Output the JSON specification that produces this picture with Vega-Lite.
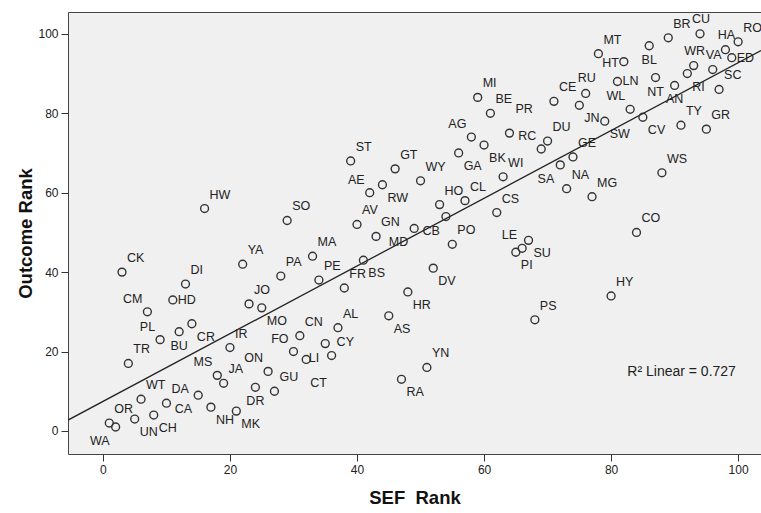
{
  "$schema": "https://vega.github.io/schema/vega-lite/v6.json",
  "width": 693,
  "height": 442,
  "autosize": {"type": "none"},
  "padding": {"left": 68, "top": 12, "right": 0, "bottom": 59},
  "background": "white",
  "config": {
    "view": {"fill": "#f0f0f0", "stroke": "#444444", "strokeWidth": 1},
    "axis": {
      "grid": false, "domain": false, "tickColor": "#333333", "tickSize": 7, "tickWidth": 1,
      "labelFont": "Liberation Sans", "labelFontSize": 12, "labelColor": "#222222", "labelPadding": 3,
      "titleFont": "Liberation Sans", "titleFontSize": 18.5, "titleFontWeight": "bold", "titleColor": "#111111"
    },
    "text": {"font": "Liberation Sans", "fontSize": 12.5, "color": "#222222"}
  },
  "layer": [
    {
      "data": {"values": [{}]},
      "mark": {"type": "text", "align": "center", "baseline": "middle", "text": "R² Linear = 0.727", "fontSize": 14},
      "encoding": {"x": {"datum": 91.1, "type": "quantitative"}, "y": {"datum": 14.9, "type": "quantitative"}}
    },
    {
      "data": {"values": [
        {"sef":1,"outcome":2,"label":"OR"},{"sef":2,"outcome":1,"label":"WA"},{"sef":3,"outcome":40,"label":"CK"},
        {"sef":4,"outcome":17,"label":"TR"},{"sef":5,"outcome":3,"label":"UN"},{"sef":6,"outcome":8,"label":"WT"},
        {"sef":7,"outcome":30,"label":"CM"},{"sef":8,"outcome":4,"label":"CH"},{"sef":9,"outcome":23,"label":"PL"},
        {"sef":10,"outcome":7,"label":"DA"},{"sef":11,"outcome":33,"label":"HD"},{"sef":12,"outcome":25,"label":"BU"},
        {"sef":13,"outcome":37,"label":"DI"},{"sef":14,"outcome":27,"label":"CR"},{"sef":15,"outcome":9,"label":"CA"},
        {"sef":16,"outcome":56,"label":"HW"},{"sef":17,"outcome":6,"label":"NH"},{"sef":18,"outcome":14,"label":"MS"},
        {"sef":19,"outcome":12,"label":"JA"},{"sef":20,"outcome":21,"label":"IR"},{"sef":21,"outcome":5,"label":"MK"},
        {"sef":22,"outcome":42,"label":"YA"},{"sef":23,"outcome":32,"label":"JO"},{"sef":24,"outcome":11,"label":"DR"},
        {"sef":25,"outcome":31,"label":"MO"},{"sef":26,"outcome":15,"label":"ON"},{"sef":27,"outcome":10,"label":"GU"},
        {"sef":28,"outcome":39,"label":"PA"},{"sef":29,"outcome":53,"label":"SO"},{"sef":30,"outcome":20,"label":"FO"},
        {"sef":31,"outcome":24,"label":"CN"},{"sef":32,"outcome":18,"label":"CT"},{"sef":33,"outcome":44,"label":"MA"},
        {"sef":34,"outcome":38,"label":"PE"},{"sef":35,"outcome":22,"label":"LI"},{"sef":36,"outcome":19,"label":"CY"},
        {"sef":37,"outcome":26,"label":"AL"},{"sef":38,"outcome":36,"label":"FR"},{"sef":39,"outcome":68,"label":"ST"},
        {"sef":40,"outcome":52,"label":"AV"},{"sef":41,"outcome":43,"label":"BS"},{"sef":42,"outcome":60,"label":"AE"},
        {"sef":43,"outcome":49,"label":"GN"},{"sef":44,"outcome":62,"label":"RW"},{"sef":45,"outcome":29,"label":"AS"},
        {"sef":46,"outcome":66,"label":"GT"},{"sef":47,"outcome":13,"label":"RA"},{"sef":48,"outcome":35,"label":"HR"},
        {"sef":49,"outcome":51,"label":"MD"},{"sef":50,"outcome":63,"label":"WY"},{"sef":51,"outcome":16,"label":"YN"},
        {"sef":52,"outcome":41,"label":"DV"},{"sef":53,"outcome":57,"label":"HO"},{"sef":54,"outcome":54,"label":"CB"},
        {"sef":55,"outcome":47,"label":"PO"},{"sef":56,"outcome":70,"label":"GA"},{"sef":57,"outcome":58,"label":"CL"},
        {"sef":58,"outcome":74,"label":"AG"},{"sef":59,"outcome":84,"label":"MI"},{"sef":60,"outcome":72,"label":"BK"},
        {"sef":61,"outcome":80,"label":"BE"},{"sef":62,"outcome":55,"label":"CS"},{"sef":63,"outcome":64,"label":"WI"},
        {"sef":64,"outcome":75,"label":"PR"},{"sef":65,"outcome":45,"label":"PI"},{"sef":66,"outcome":46,"label":"LE"},
        {"sef":67,"outcome":48,"label":"SU"},{"sef":68,"outcome":28,"label":"PS"},{"sef":69,"outcome":71,"label":"RC"},
        {"sef":70,"outcome":73,"label":"DU"},{"sef":71,"outcome":83,"label":"CE"},{"sef":72,"outcome":67,"label":"SA"},
        {"sef":73,"outcome":61,"label":"NA"},{"sef":74,"outcome":69,"label":"GE"},{"sef":75,"outcome":82,"label":"JN"},
        {"sef":76,"outcome":85,"label":"RU"},{"sef":77,"outcome":59,"label":"MG"},{"sef":78,"outcome":95,"label":"MT"},
        {"sef":79,"outcome":78,"label":"SW"},{"sef":80,"outcome":34,"label":"HY"},{"sef":81,"outcome":88,"label":"LN"},
        {"sef":82,"outcome":93,"label":"HT"},{"sef":83,"outcome":81,"label":"WL"},{"sef":84,"outcome":50,"label":"CO"},
        {"sef":85,"outcome":79,"label":"CV"},{"sef":86,"outcome":97,"label":"BL"},{"sef":87,"outcome":89,"label":"NT"},
        {"sef":88,"outcome":65,"label":"WS"},{"sef":89,"outcome":99,"label":"BR"},{"sef":90,"outcome":87,"label":"AN"},
        {"sef":91,"outcome":77,"label":"TY"},{"sef":92,"outcome":90,"label":"RI"},{"sef":93,"outcome":92,"label":"WR"},
        {"sef":94,"outcome":100,"label":"CU"},{"sef":95,"outcome":76,"label":"GR"},{"sef":96,"outcome":91,"label":"VA"},
        {"sef":97,"outcome":86,"label":"SC"},{"sef":98,"outcome":96,"label":"HA"},{"sef":99,"outcome":94,"label":"ED"},
        {"sef":100,"outcome":98,"label":"RO"}
      ]},
      "encoding": {
        "x": {"field": "sef", "type": "quantitative", "title": "SEF\u00a0 Rank",
          "scale": {"domain": [-5.5, 103.6], "nice": false, "zero": false},
          "axis": {"values": [0, 20, 40, 60, 80, 100], "titlePadding": 13}},
        "y": {"field": "outcome", "type": "quantitative", "title": "Outcome Rank",
          "scale": {"domain": [-5.8, 105.5], "nice": false, "zero": false},
          "axis": {"values": [0, 20, 40, 60, 80, 100], "titlePadding": 2}}
      },
      "layer": [
        {
          "transform": [{"regression": "outcome", "on": "sef", "extent": [-5.5, 103.6]}],
          "mark": {"type": "line", "color": "#222222", "strokeWidth": 1.3, "clip": true}
        },
        {
          "mark": {"type": "point", "shape": "circle", "filled": false, "size": 62, "strokeWidth": 1.4, "color": "#333333", "opacity": 1}
        },
        {
          "transform": [{"filter": {"field": "label", "oneOf": ["OR","CK","TR","WT","DA","DI","HW","IR","JA","YA","JO","GU","PA","SO","CN","MA","PE","CY","AL","FR","ST","AV","GN","GT","WY","YN","HO","PO","CL","MI","BE","CS","WI","PS","DU","CE","NA","GE","MG","MT","HY","CO","SC","WS","BR","TY","GR","RO"]}}],
          "mark": {"type": "text", "align": "left", "baseline": "middle", "dx": 5, "dy": -14},
          "encoding": {"text": {"field": "label"}}
        },
        {
          "transform": [{"filter": {"field": "label", "oneOf": ["CM","PL","MS","ON","FO","AE","AG","LE","RC","WL"]}}],
          "mark": {"type": "text", "align": "right", "baseline": "middle", "dx": -5, "dy": -13},
          "encoding": {"text": {"field": "label"}}
        },
        {
          "transform": [{"filter": {"field": "label", "oneOf": ["RU","CU","HA","VA","WR"]}}],
          "mark": {"type": "text", "align": "center", "baseline": "middle", "dx": 1, "dy": -15},
          "encoding": {"text": {"field": "label"}}
        },
        {
          "transform": [{"filter": {"field": "label", "oneOf": ["BU","DR","BL","NT","AN"]}}],
          "mark": {"type": "text", "align": "center", "baseline": "middle", "dx": 0, "dy": 14},
          "encoding": {"text": {"field": "label"}}
        },
        {
          "transform": [{"filter": {"field": "label", "oneOf": ["UN","CH","CR","NH","MK","MO","BS","RW","AS","RA","HR","DV","GA","BK","PI","SU","JN","SW","CV","RI"]}}],
          "mark": {"type": "text", "align": "left", "baseline": "middle", "dx": 5, "dy": 13},
          "encoding": {"text": {"field": "label"}}
        },
        {
          "transform": [{"filter": {"field": "label", "oneOf": ["WA","CA","LI","MD","CB","SA"]}}],
          "mark": {"type": "text", "align": "right", "baseline": "middle", "dx": -6, "dy": 14},
          "encoding": {"text": {"field": "label"}}
        },
        {
          "transform": [{"filter": {"field": "label", "oneOf": ["HD","LN","ED"]}}],
          "mark": {"type": "text", "align": "left", "baseline": "middle", "dx": 5, "dy": 0},
          "encoding": {"text": {"field": "label"}}
        },
        {
          "transform": [{"filter": {"field": "label", "oneOf": ["HT"]}}],
          "mark": {"type": "text", "align": "right", "baseline": "middle", "dx": -5, "dy": 1},
          "encoding": {"text": {"field": "label"}}
        },
        {
          "transform": [{"filter": {"field": "label", "oneOf": ["CT"]}}],
          "mark": {"type": "text", "align": "left", "baseline": "middle", "dx": 4, "dy": 24},
          "encoding": {"text": {"field": "label"}}
        },
        {
          "transform": [{"filter": {"field": "label", "oneOf": ["PR"]}}],
          "mark": {"type": "text", "align": "left", "baseline": "middle", "dx": 6, "dy": -24},
          "encoding": {"text": {"field": "label"}}
        }
      ]
    }
  ]
}
